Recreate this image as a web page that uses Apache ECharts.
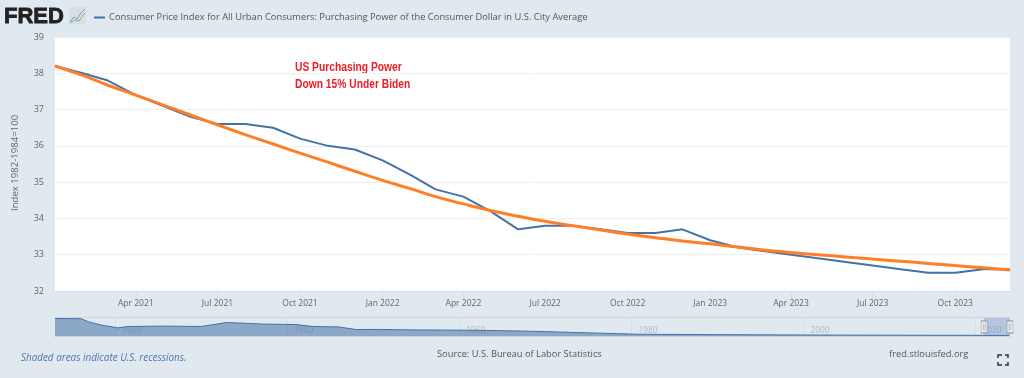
<!DOCTYPE html>
<html><head><meta charset="utf-8">
<style>html,body{margin:0;padding:0;background:#e1e9f0}#c{width:1024px;height:378px}</style>
<script src="https://cdn.jsdelivr.net/npm/echarts@6/dist/echarts.min.js"></script>
</head><body><div id="c"></div>
<script>
const months = ['2021-01','2021-02','2021-03','2021-04','2021-05','2021-06','2021-07','2021-08','2021-09','2021-10','2021-11','2021-12',
'2022-01','2022-02','2022-03','2022-04','2022-05','2022-06','2022-07','2022-08','2022-09','2022-10','2022-11','2022-12',
'2023-01','2023-02','2023-03','2023-04','2023-05','2023-06','2023-07','2023-08','2023-09','2023-10','2023-11','2023-12'];
const cpiValues = [38.2,38.0,37.8,37.4,37.1,36.8,36.6,36.6,36.5,36.2,36.0,35.9,
35.6,35.2,34.8,34.6,34.2,33.7,33.8,33.8,33.7,33.6,33.6,33.7,
33.4,33.2,33.1,33.0,32.9,32.8,32.7,32.6,32.5,32.5,32.6,32.6];
const trendValues = [38.2,37.94,37.67,37.4,37.13,36.85,36.58,36.31,36.05,35.8,35.55,35.3,
35.05,34.82,34.6,34.4,34.22,34.06,33.92,33.8,33.68,33.57,33.47,33.38,
33.3,33.21,33.13,33.06,33.0,32.94,32.88,32.82,32.76,32.7,32.64,32.58];
const tickMonths = ['2021-04','2021-07','2021-10','2022-01','2022-04','2022-07','2022-10','2023-01','2023-04','2023-07','2023-10'];
const navYears = [1913,1916,1917,1918.5,1920.3,1921.5,1925.6,1930,1933,1937,1941,1943,1946,1948,1950.5,1955,1961,1967,1971.5,1978.3,1981,1990,2000,2010,2020,2023.9];
const navValues = [1010,1000,800,620,470,550,570,550,780,690,660,550,520,375,380,350,335,290,230,135,100,78,58,46,39,33];
const navTicks = [1920,1940,1960,1980,2000,2020];
const seriesName = 'Consumer Price Index for All Urban Consumers: Purchasing Power of the Consumer Dollar in U.S. City Average';
const noteLines = ['US Purchasing Power','Down 15% Under Biden'];
const yAxisTitle = 'Index 1982-1984=100';
const sourceText = 'Source: U.S. Bureau of Labor Statistics';
const siteText = 'fred.stlouisfed.org';
const recessionText = 'Shaded areas indicate U.S. recessions.';

const FONT = '"Open Sans", sans-serif';
const ts = s => { const [y,m] = s.split('-').map(Number); return new Date(y,m-1,1).getTime(); };
const MON = ['Jan','Feb','Mar','Apr','May','Jun','Jul','Aug','Sep','Oct','Nov','Dec'];
const selStart = 2021, navMax = 2024;

const chart = echarts.init(document.getElementById('c'), null, {renderer:'canvas'});
const handle = 'path://M0 0H10V24H0ZM3.5 5V19M6.5 5V19';
chart.setOption({
  animation:false,
  backgroundColor:'#e1e9f0',
  textStyle:{fontFamily:FONT},
  legend:{
    data:[seriesName], left:89, top:8, itemWidth:11, itemHeight:2, itemGap:4,
    icon:'rect', selectedMode:false,
    textStyle:{fontFamily:FONT,fontSize:9.35,color:'#555',padding:[0,0,0,-1]}
  },
  grid:[
    {left:55,right:14,top:37,height:254,show:true,backgroundColor:'#fff',borderWidth:0},
    {left:55,right:14,top:318,height:18,show:false}
  ],
  xAxis:[
    {type:'value',gridIndex:0,min:ts('2021-01'),max:ts('2023-12'),
     axisLine:{show:true,lineStyle:{color:'#d3dcea',width:1}},
     axisTick:{show:true,length:7,customValues:tickMonths.map(ts),lineStyle:{color:'#d3dcea'}},
     splitLine:{show:false},
     axisLabel:{customValues:tickMonths.map(ts),color:'#666',fontSize:8.5,margin:8,hideOverlap:false,showMinLabel:true,showMaxLabel:true,
       formatter:v=>{const d=new Date(v);return MON[d.getMonth()]+' '+d.getFullYear();}}},
    {type:'value',gridIndex:1,min:1913,max:navMax,
     axisLine:{show:true,lineStyle:{color:'#c9d4e4',width:1}},
     axisTick:{show:true,inside:true,length:18,customValues:navTicks,lineStyle:{color:'#d6dee8'}},
     splitLine:{show:false},
     axisLabel:{customValues:navTicks,inside:true,margin:1,align:'left',padding:[0,0,0,7],color:'#b4b9c0',fontSize:8.3,showMinLabel:true,showMaxLabel:true,
       formatter:v=>String(v)}}
  ],
  yAxis:[
    {type:'value',gridIndex:0,min:32,max:39,interval:1,
     axisLine:{show:false},axisTick:{show:false},
     splitLine:{show:true,lineStyle:{color:'#eeeeee',width:1}},
     axisLabel:{color:'#666',fontSize:9,margin:11}},
    {type:'value',gridIndex:1,min:0,max:1039,show:false,splitLine:{show:false}}
  ],
  series:[
    {name:seriesName,type:'line',xAxisIndex:0,yAxisIndex:0,symbol:'none',
     data:months.map((m,i)=>[ts(m),cpiValues[i]]),lineStyle:{color:'#4572a7',width:2},itemStyle:{color:'#4572a7'},z:3},
    {name:'Trend',type:'line',xAxisIndex:0,yAxisIndex:0,symbol:'none',smooth:0.5,
     data:months.map((m,i)=>[ts(m),trendValues[i]]),lineStyle:{color:'#ff7f27',width:3},itemStyle:{color:'#ff7f27'},z:4},
    {name:'Navigator',type:'line',xAxisIndex:1,yAxisIndex:1,symbol:'none',
     data:navYears.map((y,i)=>[y,navValues[i]]),
     lineStyle:{color:'#4572a7',width:1},areaStyle:{color:'#4572a7',opacity:0.55},z:3,
     markArea:{silent:true,itemStyle:{color:'rgba(102,133,194,0.35)'},data:[[{xAxis:selStart},{xAxis:navMax}]]}},
    {name:'Handles',type:'scatter',xAxisIndex:1,yAxisIndex:1,symbol:handle,symbolSize:[6,12],z:6,silent:true,clip:false,
     itemStyle:{color:'#f2f2f2',borderColor:'#999',borderWidth:1},
     data:[[selStart,520],[navMax,520]]}
  ],
  graphic:[
    {type:'text',x:4,y:6,style:{text:'FRED',font:'bold 22px "Liberation Sans", sans-serif',fill:'#222',stroke:'#222',lineWidth:0.8}},
    {type:'rect',shape:{x:69,y:7,width:17,height:17},style:{fill:'#d8e0e4'}},
    {type:'polyline',shape:{points:[[70,22],[74,17],[77,19],[81,13],[85,9]]},style:{stroke:'#6f9fbe',fill:null,lineWidth:1}},
    {type:'polyline',shape:{points:[[70,23],[75,20],[79,21],[83,15],[85,13]]},style:{stroke:'#8fb07a',fill:null,lineWidth:1}},
    {type:'line',shape:{x1:55,y1:317.5,x2:1010,y2:317.5},style:{stroke:'#d0d6dd',lineWidth:1}},
    {type:'text',x:295,y:61,scaleX:0.79,style:{text:noteLines[0],font:'bold 13px "Liberation Sans",sans-serif',fill:'#ee1c25'}},
    {type:'text',x:295,y:78,scaleX:0.79,style:{text:noteLines[1],font:'bold 13px "Liberation Sans",sans-serif',fill:'#ee1c25'}},
    {type:'text',rotation:Math.PI/2,x:10,y:211,style:{text:yAxisTitle,font:'9.6px '+FONT,fill:'#666'}},
    {type:'text',x:21,y:353,style:{text:recessionText,font:'italic 9.9px '+FONT,fill:'#4f76ab'}},
    {type:'text',x:437,y:350,style:{text:sourceText,font:'9.3px '+FONT,fill:'#555'}},
    {type:'text',x:889,y:350,style:{text:siteText,font:'9.3px '+FONT,fill:'#555'}},
    {type:'polyline',shape:{points:[[998,358],[998,355],[1002,355]]},style:{stroke:'#333',fill:null,lineWidth:1.5}},
    {type:'polyline',shape:{points:[[1005,355],[1008,355],[1008,358]]},style:{stroke:'#333',fill:null,lineWidth:1.5}},
    {type:'polyline',shape:{points:[[998,362],[998,365],[1002,365]]},style:{stroke:'#333',fill:null,lineWidth:1.5}},
    {type:'polyline',shape:{points:[[1005,365],[1008,365],[1008,362]]},style:{stroke:'#333',fill:null,lineWidth:1.5}}
  ]
});
</script></body></html>
